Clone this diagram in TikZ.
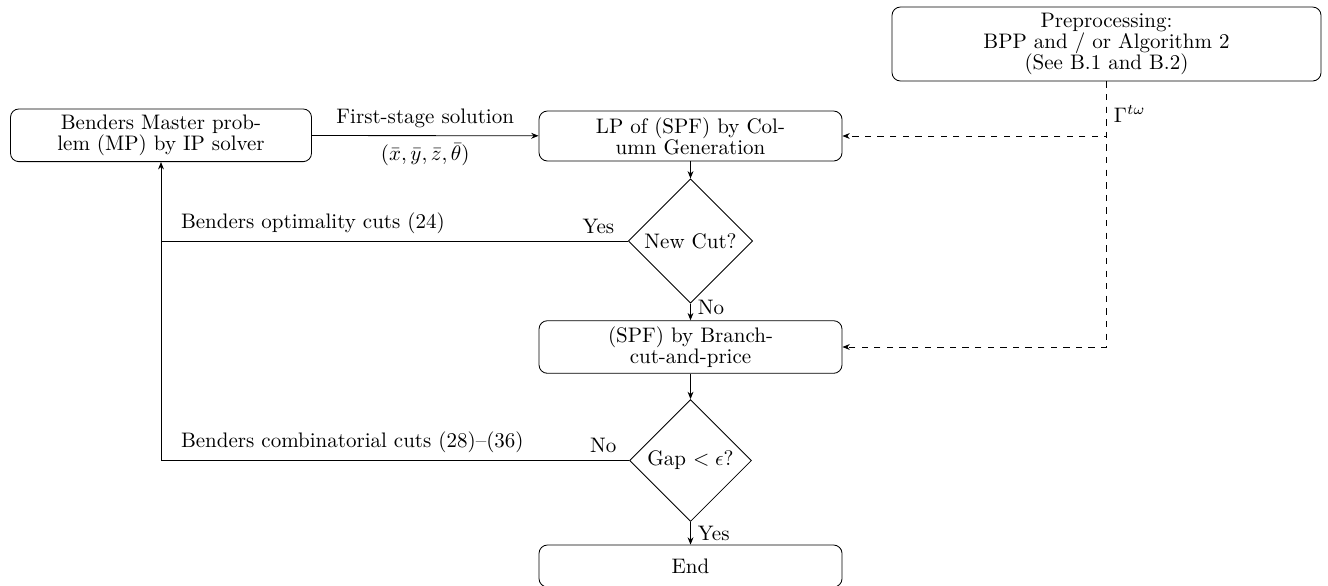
\documentclass[tikz,border=0pt]{standalone}
\usetikzlibrary{shapes.geometric,arrows.meta}
\newcommand\pxu{0.476pt}
\begin{document}
\begin{tikzpicture}[x=0.476pt,y=-0.476pt,
  box/.style={draw, rounded corners=4pt, align=center, inner sep=2pt,
    font=\fontsize{10}{10}\selectfont,
    minimum width=303*\pxu, minimum height=50*\pxu},
  dec/.style={draw, diamond, aspect=1, inner sep=2pt},
  arr/.style={-{Stealth[length=3.5pt,width=2.8pt]}},
  lbl/.style={inner sep=3.33pt}
]
\useasboundingbox (0,0) rectangle (1328,585);

\node[box, minimum width=301*\pxu, minimum height=52.7*\pxu] (mp) at (161,135.3)
  {Benders Master prob-\\lem (MP) by IP solver};
\node[box] (lp) at (690.5,136) {LP of (SPF) by Col-\\umn Generation};
\node[box, minimum width=429*\pxu, minimum height=74*\pxu] (pre) at (1106.5,44)
  {Preprocessing:\\BPP and / or Algorithm 2\\(See B.1 and B.2)};
\node[dec] (cut) at (690.5,241) {New Cut?};
\node[box, minimum height=52.6*\pxu] (spf) at (690.5,347) {(SPF) by Branch-\\cut-and-price};
\node[dec] (gap) at (690.5,460.5) {Gap $<\epsilon$?};
\node[box, minimum height=42*\pxu] (end) at (690.5,566) {End};

\draw[arr] (mp) -- node[lbl, above]{First-stage solution}
  node[lbl, below]{$(\bar x,\bar y,\bar z,\bar\theta)$} (lp);
\draw[arr] (lp) -- (cut);
\draw[arr] (cut) -- node[lbl, right, pos=0.25]{No} (spf);
\draw[arr] (spf) -- (gap);
\draw[arr] (gap) -- node[lbl, right]{Yes} (end);

\draw (cut.west) -- node[lbl, pos=0, above left, xshift=-3pt]{Yes}
  (cut.west -| mp.south) node[lbl, above right, xshift=6pt]{Benders optimality cuts (24)};
\draw[arr] (gap.west) -- node[lbl, pos=0, above left, xshift=-2.5pt]{No}
  (gap.west -| mp.south) node[lbl, above right, xshift=6pt]{Benders combinatorial cuts (28)--(36)}
  -- (mp.south);

\draw[arr, dashed] (pre.south) |- node[lbl, right, pos=0.3]{$\Gamma^{t\omega}$} (lp.east);
\draw[arr, dashed] (pre.south) |- (spf.east);
\end{tikzpicture}
\end{document}
